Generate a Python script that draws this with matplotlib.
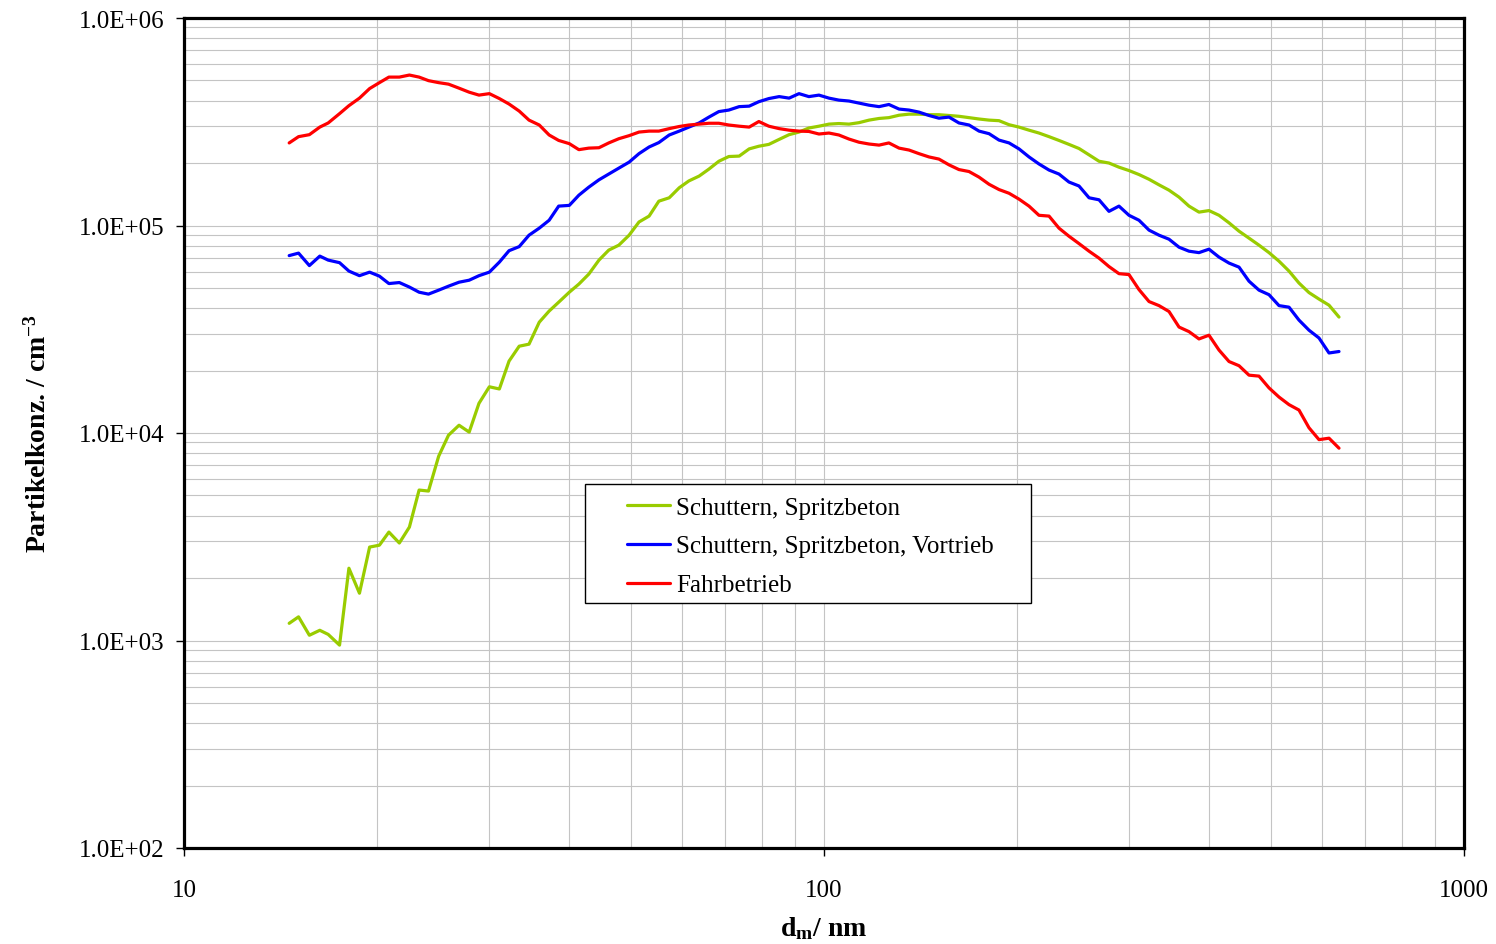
import matplotlib
matplotlib.use("Agg")
import matplotlib.pyplot as plt
from matplotlib.ticker import LogLocator, FuncFormatter, NullFormatter
from matplotlib.patches import Rectangle

plt.rcParams['font.family'] = ['Liberation Serif', 'DejaVu Serif']
plt.rcParams['mathtext.fontset'] = 'custom'
plt.rcParams['mathtext.rm'] = 'Liberation Serif'
plt.rcParams['mathtext.bf'] = 'Liberation Serif:bold'
plt.rcParams['mathtext.it'] = 'Liberation Serif:italic'

# Mobility diameter channels (nm)
diameters = [14.6, 15.1, 15.7, 16.3, 16.8, 17.5, 18.1, 18.8, 19.5, 20.2,
             20.9, 21.7, 22.5, 23.3, 24.1, 25.0, 25.9, 26.9, 27.9, 28.9,
             30.0, 31.1, 32.2, 33.4, 34.6, 35.9, 37.2, 38.5, 40.0, 41.4,
             42.9, 44.5, 46.1, 47.8, 49.6, 51.4, 53.3, 55.2, 57.3, 59.4,
             61.5, 63.8, 66.1, 68.5, 71.0, 73.7, 76.4, 79.1, 82.0, 85.1,
             88.2, 91.4, 94.7, 98.2, 101.8, 105.5, 109.4, 113.4, 117.6, 121.9,
             126.3, 131.0, 135.8, 140.7, 145.9, 151.2, 156.8, 162.5, 168.5, 174.7,
             181.1, 187.7, 194.6, 201.7, 209.1, 216.7, 224.7, 232.9, 241.4, 250.3,
             259.5, 269.0, 278.8, 289.0, 299.6, 310.6, 322.0, 333.8, 346.0, 358.7,
             371.8, 385.4, 399.5, 414.2, 429.4, 445.1, 461.4, 478.3, 495.8, 514.0,
             532.8, 552.3, 572.5, 593.5, 615.3, 637.8]

schuttern_spritzbeton = [1210, 1300, 1060, 1120, 1070, 950, 2230, 1690, 2820, 2880,
                         3330, 2950, 3520, 5310, 5250, 7730, 9760, 10900, 10100, 13900,
                         16700, 16300, 22200, 26200, 26800, 34200, 38700, 42700, 47700, 52200,
                         58300, 68100, 76100, 80400, 89800, 104000, 111000, 131000, 136000, 152000,
                         164000, 173000, 187000, 204000, 215000, 216000, 234000, 241000, 246000, 260000,
                         274000, 282000, 295000, 301000, 308000, 310000, 308000, 313000, 322000, 328000,
                         331000, 340000, 344000, 344000, 342000, 342000, 339000, 336000, 331000, 326000,
                         322000, 320000, 306000, 298000, 288000, 279000, 268000, 257000, 246000, 235000,
                         219000, 204000, 200000, 191000, 184000, 176000, 167000, 157000, 148000, 137000,
                         124000, 116000, 118000, 112000, 103000, 93900, 86900, 80400, 74000, 67300,
                         60300, 52800, 47500, 44200, 41300, 36200]

schuttern_spritzbeton_vortrieb = [71600, 73600, 64100, 71200, 68100, 66200, 60300, 57300, 59600, 57000,
                                  52500, 53100, 50500, 47700, 46700, 48800, 51000, 53300, 54500, 57300,
                                  59600, 66600, 75600, 79100, 89800, 97100, 106000, 124000, 125000, 140000,
                                  153000, 166000, 177000, 189000, 202000, 222000, 239000, 251000, 273000, 285000,
                                  298000, 312000, 333000, 354000, 360000, 374000, 376000, 395000, 409000, 418000,
                                  411000, 432000, 418000, 425000, 411000, 402000, 398000, 389000, 380000, 374000,
                                  383000, 364000, 360000, 352000, 339000, 329000, 333000, 312000, 305000, 285000,
                                  277000, 258000, 250000, 234000, 214000, 198000, 185000, 177000, 162000, 155000,
                                  136000, 133000, 117000, 124000, 112000, 106000, 95000, 89800, 85900, 78600,
                                  75200, 74000, 76900, 70400, 65900, 63000, 53900, 48800, 46400, 41100,
                                  40400, 35000, 31300, 28700, 24300, 24700]

fahrbetrieb = [250000, 268000, 274000, 298000, 312000, 346000, 378000, 411000, 457000, 488000,
               519000, 519000, 531000, 519000, 499000, 488000, 480000, 459000, 439000, 425000,
               432000, 409000, 385000, 356000, 322000, 305000, 273000, 257000, 248000, 232000,
               236000, 237000, 250000, 262000, 271000, 282000, 285000, 285000, 293000, 300000,
               305000, 308000, 311000, 311000, 305000, 301000, 298000, 317000, 301000, 293000,
               288000, 285000, 284000, 276000, 279000, 273000, 261000, 252000, 247000, 244000,
               250000, 236000, 231000, 222000, 214000, 209000, 196000, 186000, 182000, 171000,
               158000, 149000, 143000, 134000, 124000, 112000, 111000, 97100, 88800, 81800,
               75200, 69600, 63400, 58600, 58000, 49100, 43000, 41100, 38500, 32400,
               30800, 28400, 29600, 25100, 22100, 21100, 19000, 18800, 16500, 14900,
               13700, 12900, 10600, 9290, 9440, 8450]

series_labels = ["Schuttern, Spritzbeton", "Schuttern, Spritzbeton, Vortrieb", "Fahrbetrieb"]
series_colors = ["#99cc00", "#0000ff", "#ff0000"]

fig = plt.figure(figsize=(14.96, 9.45), dpi=100)
ax = fig.add_axes([184/1496, 96/945, 1280/1496, 830/945])

for vals, lab, col in zip([schuttern_spritzbeton, schuttern_spritzbeton_vortrieb, fahrbetrieb],
                          series_labels, series_colors):
    ax.plot(diameters, vals, color=col, lw=2.3, label=lab, zorder=3,
            solid_joinstyle='round', solid_capstyle='round')

ax.set_xscale('log')
ax.set_yscale('log')
ax.set_xlim(10, 1000)
ax.set_ylim(1e2, 1e6)

ax.xaxis.set_major_locator(LogLocator(base=10, numticks=10))
ax.xaxis.set_minor_locator(LogLocator(base=10, subs=range(2, 10), numticks=20))
ax.yaxis.set_major_locator(LogLocator(base=10, numticks=10))
ax.yaxis.set_minor_locator(LogLocator(base=10, subs=range(2, 10), numticks=20))
ax.xaxis.set_major_formatter(FuncFormatter(lambda v, p: f"{v:g}"))
ax.yaxis.set_major_formatter(FuncFormatter(lambda v, p: f"{v:.1E}"))
ax.xaxis.set_minor_formatter(NullFormatter())
ax.yaxis.set_minor_formatter(NullFormatter())

ax.grid(True, which='both', color='#c4c4c4', lw=0.8, zorder=0)
ax.set_axisbelow(True)
for s in ax.spines.values():
    s.set_linewidth(2.3)
    s.set_color('black')

ax.tick_params(axis='both', which='major', direction='out', length=6, width=1,
               labelsize=18, color='black')
ax.tick_params(axis='x', which='major', pad=16)
ax.tick_params(axis='y', which='major', pad=8)
ax.tick_params(axis='both', which='minor', length=0)

ax.set_xlabel(r"d$_{\mathbf{m}}$/ nm", fontsize=20, fontweight='bold', labelpad=10)
ax.set_ylabel(r"Partikelkonz. / cm$^{\mathbf{-3}}$", fontsize=20, fontweight='bold', labelpad=20)

# legend box
x0 = (585 - 184) / 1280
x1 = (1031 - 184) / 1280
y0 = (849 - 604) / 830
y1 = (849 - 485) / 830
ax.add_patch(Rectangle((x0, y0), x1 - x0, y1 - y0, transform=ax.transAxes,
                       facecolor='white', edgecolor='black', lw=1.0, zorder=4))
leg = ax.legend(loc='upper left', bbox_to_anchor=((627 - 184) / 1280, (849 - 497) / 830),
                frameon=False, fontsize=18, handlelength=1.7, handletextpad=0.25,
                labelspacing=0.66, borderpad=0, borderaxespad=0)
leg.set_zorder(5)

fig.savefig("out.png", dpi=100)
